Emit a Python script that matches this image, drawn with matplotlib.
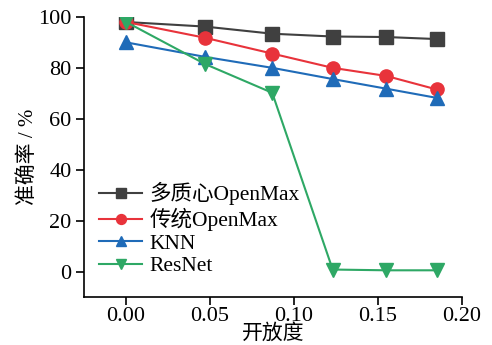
import matplotlib.pyplot as plt

plt.rcParams['font.family'] = ['Liberation Serif', 'Noto Sans CJK SC']

openness = [0.0, 0.047, 0.087, 0.123, 0.155, 0.185]
multi_center = [98.0, 96.2, 93.4, 92.3, 92.1, 91.3]
classic = [98.0, 91.8, 85.6, 80.0, 76.8, 71.5]
knn = [90.0, 84.3, 80.0, 75.6, 71.8, 68.2]
resnet = [98.0, 81.5, 70.2, 0.8, 0.5, 0.5]

labels = ['多质心OpenMax', '传统OpenMax', 'KNN', 'ResNet']
colors = ['#404040', '#e8333b', '#1f6bb8', '#2ea865']
markers = ['s', 'o', '^', 'v']

fig = plt.figure(figsize=(4.92, 3.45), dpi=100)
ax = fig.add_axes([0.171, 0.139, 0.768, 0.812])

for vals, lab, col, mk in zip([multi_center, classic, knn, resnet], labels, colors, markers):
    ax.plot(openness, vals, color=col, marker=mk, markersize=9.5, linewidth=1.5, label=lab)

ax.set_xlim(-0.025, 0.20)
ax.set_ylim(-10, 100)
ax.set_xticks([0.0, 0.05, 0.10, 0.15, 0.20])
ax.set_xticklabels(['0.00', '0.05', '0.10', '0.15', '0.20'])
ax.set_yticks([0, 20, 40, 60, 80, 100])
ax.spines['top'].set_visible(False)
ax.spines['right'].set_visible(False)
ax.spines['left'].set_linewidth(1.2)
ax.spines['bottom'].set_linewidth(1.2)
ax.tick_params(direction='out', length=6, width=1.2, labelsize=16, pad=3)
ax.tick_params(axis='x', pad=1)

ax.set_xlabel('开放度', fontsize=15, va='center')
ax.xaxis.set_label_coords(0.5, -0.13)
ax.set_ylabel('准确率 / %', fontsize=15, va='center')
ax.yaxis.set_label_coords(-0.148, 0.5)

ax.legend(loc='lower left', bbox_to_anchor=(0.0, 0.02), frameon=False, fontsize=15.5,
          handlelength=2.0, handletextpad=0.35, labelspacing=0.12, markerscale=0.75,
          borderaxespad=0.3)

fig.savefig('out.png', dpi=100)
